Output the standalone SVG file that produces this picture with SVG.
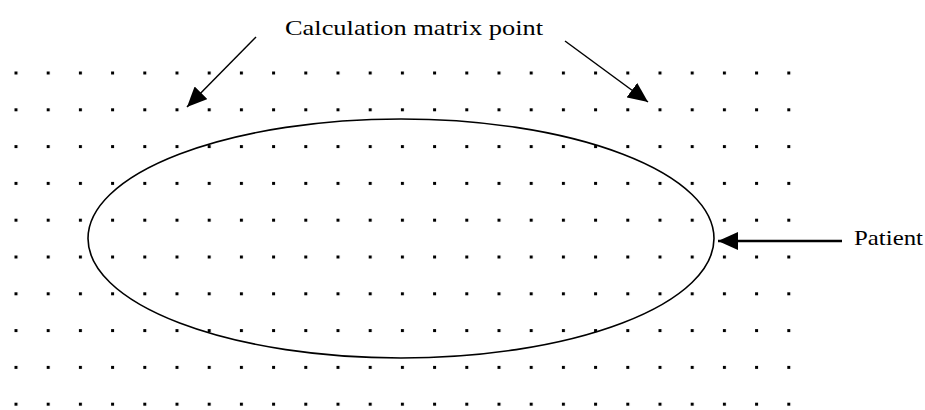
<svg xmlns="http://www.w3.org/2000/svg" width="925" height="410" viewBox="0 0 925 410">
  <style>
    .lbl { font-family: "Liberation Serif", "Times New Roman", serif; font-size: 22px; fill: #000; }
    .conn { stroke: #000; stroke-width: 1.5; fill: none; marker-end: url(#ah); }
    .outline { stroke: #000; stroke-width: 1.6; fill: none; }
  </style>
  <defs>
    <pattern id="dots" patternUnits="userSpaceOnUse" x="14.5" y="71.5" width="32.2" height="36.8">
      <rect x="0" y="0" width="3" height="3" fill="#000"/>
    </pattern>
    <marker id="ah" markerUnits="userSpaceOnUse" viewBox="0 0 20 18" refX="20" refY="9" markerWidth="20" markerHeight="18" orient="auto">
      <path d="M0,0 L20,9 L0,18 z" fill="#000"/>
    </marker>
  </defs>
  <rect width="925" height="410" fill="#fff"/>
  <g id="matrix">
    <rect x="14" y="71" width="778" height="337" fill="url(#dots)"/>
  </g>
  <g id="patient">
    <ellipse class="outline" cx="401" cy="238.5" rx="313" ry="119.5"/>
  </g>
  <g id="label-matrix">
    <text class="lbl" x="285" y="35" textLength="258" lengthAdjust="spacingAndGlyphs">Calculation matrix point</text>
  </g>
  <g id="label-patient">
    <text class="lbl" x="854" y="245" textLength="69" lengthAdjust="spacingAndGlyphs">Patient</text>
  </g>
  <g id="connectors">
    <line class="conn" x1="256" y1="37" x2="187" y2="107"/>
    <line class="conn" x1="565" y1="41" x2="648" y2="102"/>
    <line class="conn" style="stroke-width:2.5" x1="842" y1="241" x2="718" y2="241"/>
  </g>
</svg>
